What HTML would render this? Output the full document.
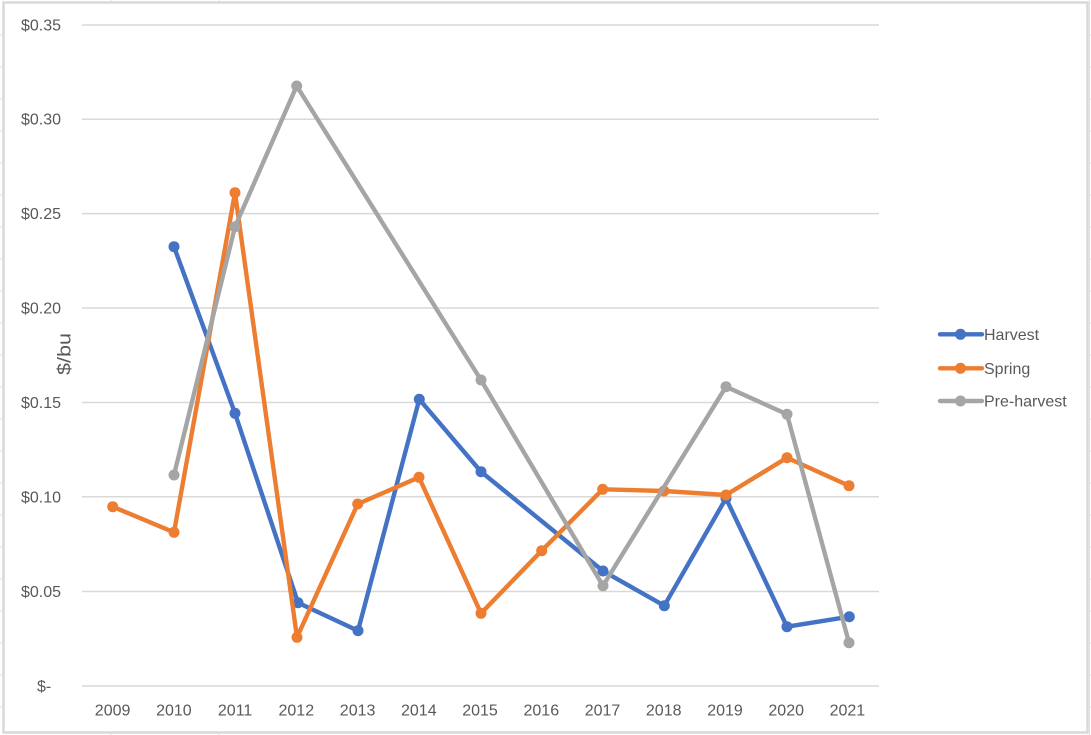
<!DOCTYPE html>
<html>
<head>
<meta charset="utf-8">
<style>
  html,body{margin:0;padding:0;background:#fff;}
  svg{display:block;}
  text{font-family:"Liberation Sans", Arial, sans-serif;fill:#595959;}
</style>
</head>
<body>
<svg width="1091" height="735" viewBox="0 0 1091 735" xmlns="http://www.w3.org/2000/svg">
  <!-- spreadsheet grid behind -->
  <g stroke="#e1e1e1" stroke-width="1">
    <line x1="111" y1="0" x2="111" y2="735"/>
    <line x1="219" y1="0" x2="219" y2="735"/>
    <line x1="1089.5" y1="0" x2="1089.5" y2="735"/>
    <line x1="0" y1="35" x2="1091" y2="35"/>
    <line x1="0" y1="67" x2="1091" y2="67"/>
    <line x1="0" y1="99" x2="1091" y2="99"/>
    <line x1="0" y1="131" x2="1091" y2="131"/>
    <line x1="0" y1="163" x2="1091" y2="163"/>
    <line x1="0" y1="195" x2="1091" y2="195"/>
    <line x1="0" y1="227" x2="1091" y2="227"/>
    <line x1="0" y1="259" x2="1091" y2="259"/>
    <line x1="0" y1="291" x2="1091" y2="291"/>
    <line x1="0" y1="323" x2="1091" y2="323"/>
    <line x1="0" y1="355" x2="1091" y2="355"/>
    <line x1="0" y1="387" x2="1091" y2="387"/>
    <line x1="0" y1="419" x2="1091" y2="419"/>
    <line x1="0" y1="451" x2="1091" y2="451"/>
    <line x1="0" y1="483" x2="1091" y2="483"/>
    <line x1="0" y1="515" x2="1091" y2="515"/>
    <line x1="0" y1="547" x2="1091" y2="547"/>
    <line x1="0" y1="579" x2="1091" y2="579"/>
    <line x1="0" y1="611" x2="1091" y2="611"/>
    <line x1="0" y1="643" x2="1091" y2="643"/>
    <line x1="0" y1="675" x2="1091" y2="675"/>
    <line x1="0" y1="707" x2="1091" y2="707"/>
  </g>
  <!-- chart area -->
  <rect x="3.5" y="2.5" width="1084" height="730" fill="#fff" stroke="#d9d9d9" stroke-width="2.5"/>

  <!-- gridlines -->
  <g stroke="#d9d9d9" stroke-width="1.5">
    <line x1="82" y1="25" x2="879" y2="25"/>
    <line x1="82" y1="119.2" x2="879" y2="119.2"/>
    <line x1="82" y1="213.6" x2="879" y2="213.6"/>
    <line x1="82" y1="308" x2="879" y2="308"/>
    <line x1="82" y1="402.5" x2="879" y2="402.5"/>
    <line x1="82" y1="496.8" x2="879" y2="496.8"/>
    <line x1="82" y1="591.5" x2="879" y2="591.5"/>
    <line x1="82" y1="686" x2="879" y2="686"/>
  </g>

  <!-- y tick labels -->
  <g font-size="16" text-anchor="end">
    <text x="61" y="30.5">$0.35</text>
    <text x="61" y="124.7">$0.30</text>
    <text x="61" y="219.1">$0.25</text>
    <text x="61" y="313.5">$0.20</text>
    <text x="61" y="408">$0.15</text>
    <text x="61" y="502.3">$0.10</text>
    <text x="61" y="597">$0.05</text>
  </g>
  <text x="37" y="691.5" font-size="16">$-</text>

  <!-- axis title -->
  <text transform="translate(70.5,354) rotate(-90)" font-size="18" text-anchor="middle" textLength="42" lengthAdjust="spacingAndGlyphs">$/bu</text>

  <!-- x labels -->
  <g font-size="16" text-anchor="middle">
    <text x="112.6" y="715.5">2009</text>
    <text x="173.9" y="715.5">2010</text>
    <text x="235.1" y="715.5">2011</text>
    <text x="296.3" y="715.5">2012</text>
    <text x="357.6" y="715.5">2013</text>
    <text x="418.8" y="715.5">2014</text>
    <text x="480" y="715.5">2015</text>
    <text x="541.3" y="715.5">2016</text>
    <text x="602.5" y="715.5">2017</text>
    <text x="663.7" y="715.5">2018</text>
    <text x="725" y="715.5">2019</text>
    <text x="786.2" y="715.5">2020</text>
    <text x="847.4" y="715.5">2021</text>
  </g>

  <!-- Harvest -->
  <g fill="#4472c4">
    <polyline fill="none" stroke="#4472c4" stroke-width="4.4" stroke-linejoin="round" stroke-linecap="round"
      points="174,246.7 235,413.3 298,602.7 358,630.7 419.3,399.3 481,471.7 603,571 664.3,605.7 726,498.3 787,626.7 849.3,616.7"/>
    <circle cx="174" cy="246.7" r="5.5"/>
    <circle cx="235" cy="413.3" r="5.5"/>
    <circle cx="298" cy="602.7" r="5.5"/>
    <circle cx="358" cy="630.7" r="5.5"/>
    <circle cx="419.3" cy="399.3" r="5.5"/>
    <circle cx="481" cy="471.7" r="5.5"/>
    <circle cx="603" cy="571" r="5.5"/>
    <circle cx="664.3" cy="605.7" r="5.5"/>
    <circle cx="726" cy="498.3" r="5.5"/>
    <circle cx="787" cy="626.7" r="5.5"/>
    <circle cx="849.3" cy="616.7" r="5.5"/>
  </g>

  <!-- Spring -->
  <g fill="#ed7d31">
    <polyline fill="none" stroke="#ed7d31" stroke-width="4.4" stroke-linejoin="round" stroke-linecap="round"
      points="112.7,506.7 174,532.3 235,192.7 297,637.3 357.7,504 419,477.3 481,613.3 541.7,550.7 602.7,489.3 664,491 726,495 787,457.7 849,485.7"/>
    <circle cx="112.7" cy="506.7" r="5.5"/>
    <circle cx="174" cy="532.3" r="5.5"/>
    <circle cx="235" cy="192.7" r="5.5"/>
    <circle cx="297" cy="637.3" r="5.5"/>
    <circle cx="357.7" cy="504" r="5.5"/>
    <circle cx="419" cy="477.3" r="5.5"/>
    <circle cx="481" cy="613.3" r="5.5"/>
    <circle cx="541.7" cy="550.7" r="5.5"/>
    <circle cx="602.7" cy="489.3" r="5.5"/>
    <circle cx="664" cy="491" r="5.5"/>
    <circle cx="726" cy="495" r="5.5"/>
    <circle cx="787" cy="457.7" r="5.5"/>
    <circle cx="849" cy="485.7" r="5.5"/>
  </g>

  <!-- Pre-harvest -->
  <g fill="#a5a5a5">
    <polyline fill="none" stroke="#a5a5a5" stroke-width="4.4" stroke-linejoin="round" stroke-linecap="round"
      points="174,475 235,226.7 296.7,86 481,380 603,585.7 726,386.7 787,414.3 849,642.7"/>
    <circle cx="174" cy="475" r="5.5"/>
    <circle cx="235" cy="226.7" r="5.5"/>
    <circle cx="296.7" cy="86" r="5.5"/>
    <circle cx="481" cy="380" r="5.5"/>
    <circle cx="603" cy="585.7" r="5.5"/>
    <circle cx="726" cy="386.7" r="5.5"/>
    <circle cx="787" cy="414.3" r="5.5"/>
    <circle cx="849" cy="642.7" r="5.5"/>
  </g>

  <!-- legend -->
  <g>
    <line x1="940" y1="334.3" x2="982" y2="334.3" stroke="#4472c4" stroke-width="4.4" stroke-linecap="round"/>
    <circle cx="960.5" cy="334.3" r="5.5" fill="#4472c4"/>
    <text x="984" y="340" font-size="16">Harvest</text>

    <line x1="940" y1="368.3" x2="982" y2="368.3" stroke="#ed7d31" stroke-width="4.4" stroke-linecap="round"/>
    <circle cx="960.5" cy="368.3" r="5.5" fill="#ed7d31"/>
    <text x="984" y="374" font-size="16">Spring</text>

    <line x1="940" y1="401" x2="982" y2="401" stroke="#a5a5a5" stroke-width="4.4" stroke-linecap="round"/>
    <circle cx="960.5" cy="401" r="5.5" fill="#a5a5a5"/>
    <text x="984" y="406.7" font-size="16">Pre-harvest</text>
  </g>
</svg>
</body>
</html>
